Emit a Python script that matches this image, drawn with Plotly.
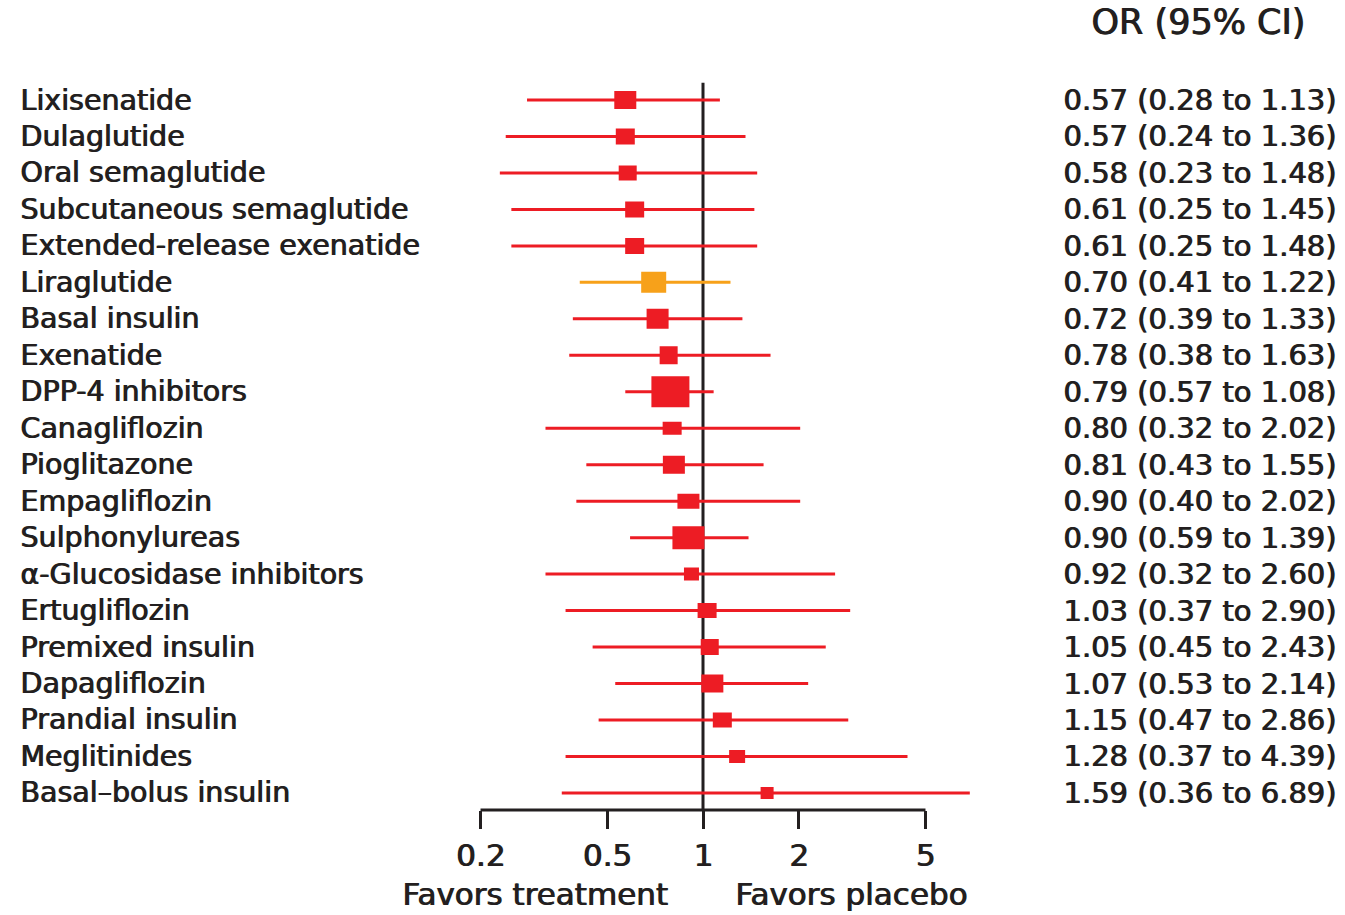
import numpy as np
import plotly.graph_objects as go

drugs = [
    "Lixisenatide", "Dulaglutide", "Oral semaglutide", "Subcutaneous semaglutide",
    "Extended-release exenatide", "Liraglutide", "Basal insulin", "Exenatide",
    "DPP-4 inhibitors", "Canagliflozin", "Pioglitazone", "Empagliflozin",
    "Sulphonylureas", "α-Glucosidase inhibitors", "Ertugliflozin", "Premixed insulin",
    "Dapagliflozin", "Prandial insulin", "Meglitinides", "Basal–bolus insulin",
]
odds_ratio = [0.57, 0.57, 0.58, 0.61, 0.61, 0.70, 0.72, 0.78, 0.79, 0.80,
              0.81, 0.90, 0.90, 0.92, 1.03, 1.05, 1.07, 1.15, 1.28, 1.59]
ci_low = [0.28, 0.24, 0.23, 0.25, 0.25, 0.41, 0.39, 0.38, 0.57, 0.32,
          0.43, 0.40, 0.59, 0.32, 0.37, 0.45, 0.53, 0.47, 0.37, 0.36]
ci_high = [1.13, 1.36, 1.48, 1.45, 1.48, 1.22, 1.33, 1.63, 1.08, 2.02,
           1.55, 2.02, 1.39, 2.60, 2.90, 2.43, 2.14, 2.86, 4.39, 6.89]
highlight = "Liraglutide"

# box dimensions (px) for each estimate's square
box_w = [22, 19, 18, 19, 19, 25, 22, 18, 38, 19,
         22, 22, 32, 15, 19, 18, 22, 19, 16, 13]
box_h = [18, 16, 15, 16, 16, 21, 20, 18, 31, 13,
         18, 15, 23, 13, 15, 16, 18, 15, 13, 12]

tick_values = [0.2, 0.5, 1, 2, 5]
tick_labels = ["0.2", "0.5", "1", "2", "5"]

RED = "#ED1C24"
ORANGE = "#F7A11A"
INK = "#231F20"
FONT = "DejaVu Sans"
EMBOLDEN = "1px 0 0 #231F20"


def text_font(size):
    return dict(family=FONT, size=size, color=INK, shadow=EMBOLDEN)


W, H = 1345, 915
row0_px, row_step_px = 100.0, 36.47
axis_px = 810.0
one_px, px_per_decade = 703.0, 318.3

# map pixel layout onto data ranges (figure has no margins)
y_top = -row0_px / row_step_px
y_bottom = (H - row0_px) / row_step_px
x_left = -one_px / px_per_decade
x_right = (W - one_px) / px_per_decade
y_axis = (axis_px - row0_px) / row_step_px

rows = np.arange(len(drugs))
colors = [ORANGE if d == highlight else RED for d in drugs]

fig = go.Figure()

# reference line at OR = 1
fig.add_trace(go.Scatter(x=[1, 1], y=[-0.47, y_axis], mode="lines",
                         line=dict(color=INK, width=3), hoverinfo="skip"))

# confidence intervals
for i in rows:
    fig.add_trace(go.Scatter(x=[ci_low[i], ci_high[i]], y=[i, i], mode="lines",
                             line=dict(color=colors[i], width=3), hoverinfo="skip"))

# point estimates: a zero-length error bar whose cap is a filled rectangle
for i in rows:
    fig.add_trace(go.Scatter(
        x=[odds_ratio[i]], y=[int(i)], mode="markers",
        marker=dict(size=1, opacity=0),
        error_y=dict(type="data", array=[0], visible=True, color=colors[i],
                     width=box_w[i] / 2, thickness=box_h[i]),
        hoverinfo="skip"))

# horizontal axis baseline spanning the tick range
fig.add_trace(go.Scatter(x=[tick_values[0], tick_values[-1]], y=[y_axis, y_axis],
                         mode="lines", line=dict(color=INK, width=3), hoverinfo="skip"))

annotations = []
for i, d in enumerate(drugs):
    annotations.append(dict(x=18 / W, xref="paper", y=i, yref="y", text=d,
                            xanchor="left", yanchor="middle", showarrow=False,
                            font=text_font(28.5)))
    txt = f"{odds_ratio[i]:.2f} ({ci_low[i]:.2f} to {ci_high[i]:.2f})"
    annotations.append(dict(x=1338 / W, xref="paper", y=i, yref="y", text=txt,
                            xanchor="right", yanchor="middle", showarrow=False,
                            font=text_font(29)))

annotations.append(dict(x=1198 / W, xref="paper", y=1 - 22 / H, yref="paper",
                        text="OR (95% CI)", xanchor="center", yanchor="middle",
                        showarrow=False, font=text_font(35)))
annotations.append(dict(x=535 / W, xref="paper", y=1 - 894 / H, yref="paper",
                        text="Favors treatment", xanchor="center", yanchor="middle",
                        showarrow=False, font=text_font(31)))
annotations.append(dict(x=851 / W, xref="paper", y=1 - 894 / H, yref="paper",
                        text="Favors placebo", xanchor="center", yanchor="middle",
                        showarrow=False, font=text_font(31)))

fig.update_layout(
    width=W, height=H, autosize=False,
    margin=dict(l=0, r=0, t=0, b=0),
    paper_bgcolor="white", plot_bgcolor="white",
    showlegend=False,
    annotations=annotations,
    xaxis=dict(type="log", range=[x_left, x_right], showgrid=False, zeroline=False,
               showline=False, tickmode="array", tickvals=tick_values,
               ticktext=tick_labels, ticks="outside", ticklen=18, tickwidth=3,
               tickcolor=INK, anchor="free", position=1 - axis_px / H,
               tickfont=text_font(31)),
    yaxis=dict(range=[y_bottom, y_top], visible=False, showgrid=False, zeroline=False),
)

fig.write_html("out.html")
